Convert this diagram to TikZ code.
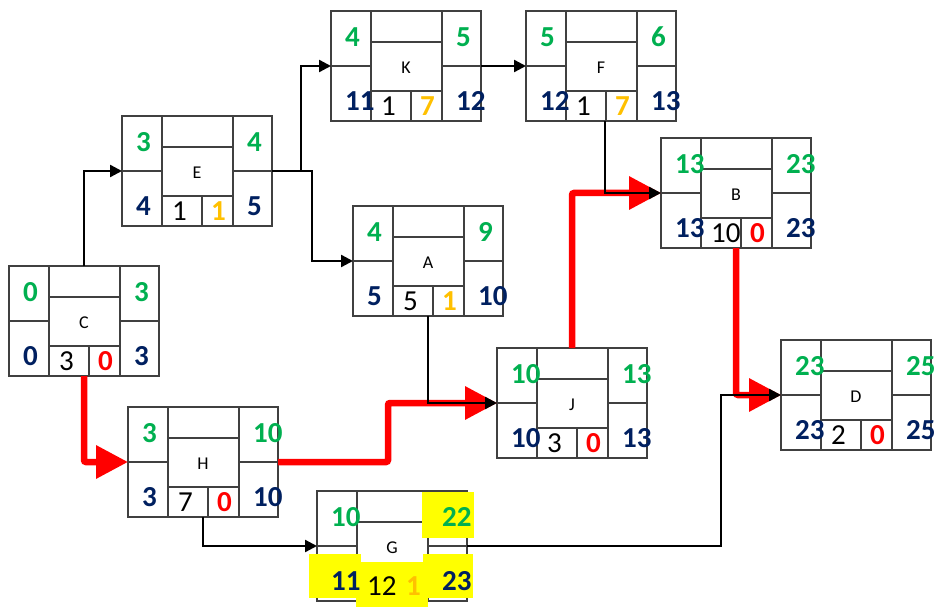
\documentclass[tikz,border=0pt]{standalone}
\usepackage{fontspec}
\setmainfont{Carlito}
\usetikzlibrary{arrows.meta,calc}
\definecolor{cgreen}{HTML}{00B050}
\definecolor{cblue}{HTML}{002060}
\definecolor{corange}{HTML}{FFC000}
\definecolor{cred}{HTML}{FF0000}
\definecolor{cline}{HTML}{404040}
\definecolor{cyel}{HTML}{FFFF00}
\tikzset{
  actbox/.style={draw=cline, line width=1.3pt, minimum width=150pt, minimum height=110pt,
    inner sep=0pt, outer sep=0pt, anchor=north west},
  gridline/.style={draw=cline, line width=1.3pt},
  cornum/.style={font=\fontsize{29}{29}\selectfont\bfseries, inner sep=0pt, anchor=west},
  durnum/.style={font=\fontsize{29}{29}\selectfont, inner sep=0pt, anchor=west},
  slacknum/.style={font=\fontsize{29}{29}\selectfont\bfseries, inner sep=0pt, anchor=west},
  actlabel/.style={font=\fontsize{18}{18}\selectfont, inner sep=0pt},
  blk/.style={draw=black, line width=2.3pt, -{Triangle[length=12pt,width=12pt]}},
  crit/.style={draw=cred, line width=6.5pt, rounded corners=2pt, -{Triangle[length=32pt,width=32pt]}},
  hilite/.style={fill=cyel, draw=none}
}
% box with its grid
\newcommand\actframe[3]{%
  \node[actbox] (#1) at (#2,#3) {};
  \draw[gridline] ([shift={(40,0)}]#1.north west) -- ([shift={(40,110)}]#1.north west);
  \draw[gridline] ([shift={(111,0)}]#1.north west) -- ([shift={(111,110)}]#1.north west);
  \draw[gridline] ([shift={(0,55)}]#1.north west) -- ([shift={(40,55)}]#1.north west);
  \draw[gridline] ([shift={(111,55)}]#1.north west) -- ([shift={(150,55)}]#1.north west);
  \draw[gridline] ([shift={(40,31)}]#1.north west) -- ([shift={(111,31)}]#1.north west);
  \draw[gridline] ([shift={(40,80)}]#1.north west) -- ([shift={(111,80)}]#1.north west);
  \draw[gridline] ([shift={(80,80)}]#1.north west) -- ([shift={(80,110)}]#1.north west);
}
% texts: name, label, ES, EF, LS, LF, duration, slack, slack colour
\newcommand\acttext[9]{%
  \node[actlabel] (#1-lbl) at ([shift={(75,57)}]#1.north west) {#2};
  \node[cornum, text=cgreen] (#1-es) at ([shift={(14,26)}]#1.north west) {#3};
  \node[cornum, text=cgreen] (#1-ef) at ([shift={(125,26)}]#1.north west) {#4};
  \node[cornum, text=cblue] (#1-ls) at ([shift={(14,90)}]#1.north west) {#5};
  \node[cornum, text=cblue] (#1-lf) at ([shift={(125,90)}]#1.north west) {#6};
  \node[durnum] (#1-dur) at ([shift={(50,95)}]#1.north west) {#7};
  \node[slacknum, text=#9] (#1-sl) at ([shift={(89,95)}]#1.north west) {#8};
}
\begin{document}
\begin{tikzpicture}[x=1pt,y=-1pt]
\useasboundingbox (0,0) rectangle (946,607);
\fill[white] (0,0) rectangle (946,607);

\actframe{C}{9}{266}
\acttext{C}{C}{0}{3}{0}{3}{3}{0}{cred}
\actframe{E}{122}{116}
\acttext{E}{E}{3}{4}{4}{5}{1}{1}{corange}
\actframe{K}{331}{11}
\acttext{K}{K}{4}{5}{11}{12}{1}{7}{corange}
\actframe{F}{526}{11}
\acttext{F}{F}{5}{6}{12}{13}{1}{7}{corange}
\actframe{B}{661}{138}
\acttext{B}{B}{13}{23}{13}{23}{10}{0}{cred}
\actframe{A}{353}{206}
\acttext{A}{A}{4}{9}{5}{10}{5}{1}{corange}
\actframe{J}{497}{348}
\acttext{J}{J}{10}{13}{10}{13}{3}{0}{cred}
\actframe{D}{781}{340}
\acttext{D}{D}{23}{25}{23}{25}{2}{0}{cred}
\actframe{H}{128}{407}
\acttext{H}{H}{3}{10}{3}{10}{7}{0}{cred}
\actframe{G}{317}{491}
\fill[hilite] ([shift={(105,1)}]G.north west) rectangle ([shift={(157,47)}]G.north west);
\fill[hilite] ([shift={(-8,63)}]G.north west) rectangle ([shift={(44,107)}]G.north west);
\fill[hilite] ([shift={(39,71)}]G.north west) rectangle ([shift={(111,116)}]G.north west);
\fill[hilite] ([shift={(106,63)}]G.north west) rectangle ([shift={(156,107)}]G.north west);
\acttext{G}{G}{10}{22}{11}{23}{12}{1}{corange}

% critical path
\draw[crit] (C.south) |- (H.west);
\draw[crit] (H.east) -- ++(110,0) |- (J.west);
\draw[crit] (J.north) |- (B.west);
\draw[crit] (B.south) |- (D.west);

% other dependencies
\draw[blk] (C.north) |- (E.west);
\draw[blk] (E.east) -- ++(29,0) |- (K.west);
\draw[blk] (E.east) -- ++(40,0) |- (A.west);
\draw[blk] (K.east) -- (F.west);
\draw[blk] ([xshift=4pt]F.south) |- (B.west);
\draw[blk] (A.south) |- (J.west);
\draw[blk] (H.south) |- (G.west);
\draw[blk] (G.east) -- ++(254,0) |- (D.west);
\end{tikzpicture}
\end{document}
